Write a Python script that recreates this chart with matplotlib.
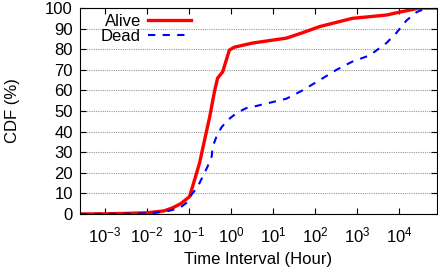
import matplotlib
matplotlib.use('Agg')
import matplotlib.pyplot as plt
import numpy as np

plt.rcParams['font.family'] = ['Liberation Sans', 'DejaVu Sans']

# log10(hours) and CDF (%)
alive_logx = [-3.6, -3.0, -2.5, -2.0, -1.6, -1.39, -1.2, -0.99, -0.87, -0.75, -0.63, -0.51,
              -0.39, -0.32, -0.20, -0.04, 0.08, 0.51, 1.32, 1.70, 2.11, 2.89, 3.70,
              4.01, 4.49, 4.9]
alive_cdf = [0, 0.1, 0.3, 0.6, 1.5, 3, 5, 8.4, 16.5, 24.8, 36, 47,
             60, 66, 69, 79.6, 81, 83, 85.4, 88, 91, 95, 96.6,
             98, 100, 100]

dead_logx = [-3.6, -3.0, -2.5, -2.0, -1.6, -1.39, -1.22, -1.07, -0.92, -0.80, -0.68,
             -0.56, -0.46, -0.44, -0.35, -0.23, -0.08, 0.13, 0.37, 0.51, 0.92,
             1.32, 1.70, 2.11, 2.51, 2.89, 3.30, 3.70, 3.94, 4.18, 4.42, 4.65, 4.9]
dead_cdf = [0, 0.05, 0.1, 0.3, 1.0, 2, 3, 5.3, 10, 13, 18,
            23, 28, 32.5, 37.4, 42, 45.6, 49, 51.5, 52, 54,
            56, 60, 65, 70, 74, 77, 83, 88, 94, 98, 100, 100]

fig = plt.figure(figsize=(4.39, 2.68), dpi=100)
ax = fig.add_axes([0.182, 0.2015, 0.813, 0.7685])

ax.plot(10 ** np.array(alive_logx), alive_cdf, color='red', lw=2.4, label='Alive')
ax.plot(10 ** np.array(dead_logx), dead_cdf, color='blue', lw=1.5,
        ls=(0, (3.5, 3.5)), label='Dead')

ax.set_xscale('log')
ax.set_xlim(10 ** -3.6, 10 ** 4.9)
ax.set_ylim(0, 100)
ax.set_yticks(range(0, 101, 10))
ax.set_xticks([1e-3, 1e-2, 1e-1, 1e0, 1e1, 1e2, 1e3, 1e4])
ax.yaxis.grid(True, color='#999999', ls=(0, (1, 1)), lw=0.8)

ax.tick_params(which='both', direction='in', top=True, right=True, labelsize=12)
ax.tick_params(which='major', length=4)
ax.tick_params(which='minor', length=2)
ax.tick_params(axis='x', pad=8)
ax.tick_params(axis='y', pad=5)

ax.set_xlabel('Time Interval (Hour)', fontsize=12, labelpad=5)
ax.set_ylabel('CDF (%)', fontsize=12, labelpad=18)

leg = ax.legend(loc='upper left', frameon=False, markerfirst=False, fontsize=12,
                handlelength=2.6, handletextpad=0.4, borderaxespad=0.0,
                labelspacing=0.0, bbox_to_anchor=(0.04, 1.005))
# right-align the labels like gnuplot does
for col in leg._legend_handle_box.get_children():
    col.align = 'right'

fig.savefig('out.png', dpi=100)
